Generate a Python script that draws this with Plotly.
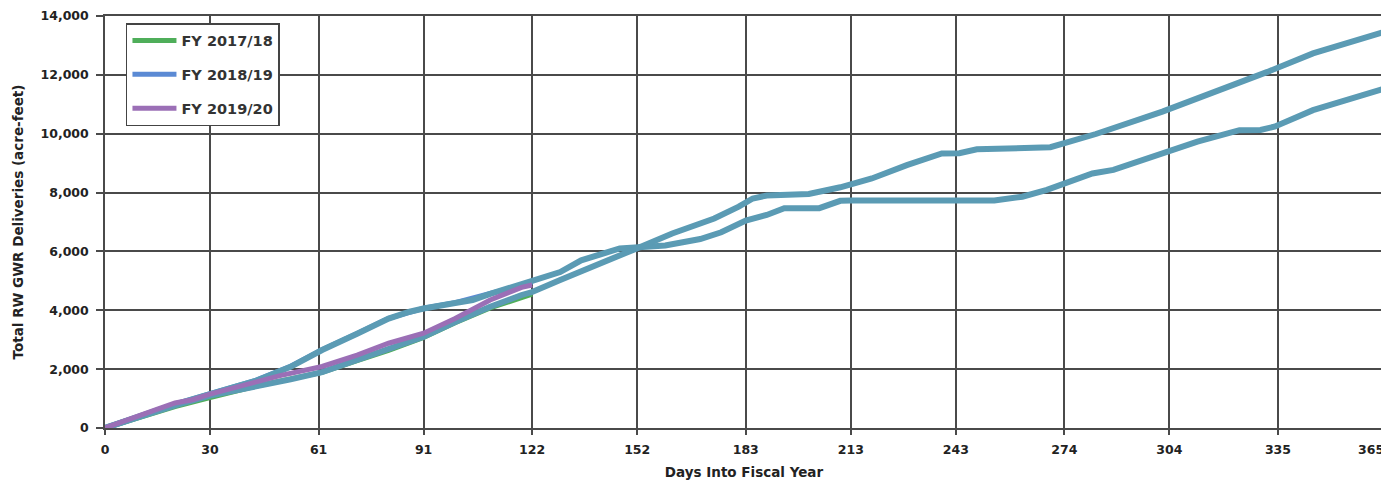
import plotly.graph_objects as go

# ---- data ----
x_ticks = [0, 30, 61, 91, 122, 152, 183, 213, 243, 274, 304, 335, 365]

# full-year line that is upper before day 152 and lower afterwards
days_a = [0, 5, 10, 20, 30, 43, 53, 62, 72, 81, 87, 91, 100, 105, 110, 119, 122, 130, 136, 147,
          153, 160, 170, 176, 183, 189, 194, 204, 210, 213, 254, 262, 269, 275, 282, 288, 302,
          312, 324, 330, 334, 345, 365]
vals_a = [0, 200, 420, 800, 1150, 1600, 2080, 2650, 3200, 3720, 3950, 4060, 4250, 4350, 4560, 4860,
          5000, 5300, 5700, 6100, 6140, 6200, 6420, 6650, 7050, 7240, 7470, 7470, 7720, 7730, 7730,
          7860, 8090, 8330, 8650, 8770, 9330, 9730, 10120, 10130, 10240, 10800, 11520]

# full-year line that is lower before day 152 and upper afterwards
days_b = [0, 5, 10, 20, 30, 43, 53, 62, 72, 81, 91, 100, 110, 119, 122, 130, 136, 141, 151, 162,
          174, 181, 185, 189, 193, 201, 210, 215, 219, 229, 239, 244, 249, 270, 275, 283, 302, 316,
          332, 345, 365]
vals_b = [0, 190, 400, 770, 1100, 1400, 1650, 1900, 2300, 2650, 3100, 3600, 4120, 4520, 4620, 5030,
          5310, 5550, 6060, 6610, 7120, 7520, 7800, 7900, 7920, 7950, 8180, 8320, 8480, 8930, 9330,
          9340, 9470, 9540, 9700, 9990, 10750, 11370, 12100, 12730, 13450]

days_g = [0, 10, 20, 30, 43, 55, 62, 72, 81, 91, 100, 110, 117, 122]
vals_g = [0, 380, 730, 1030, 1420, 1720, 1890, 2290, 2640, 3080, 3580, 4080, 4380, 4550]

days_bl = [0, 10, 20, 30, 43, 53, 62, 72, 81, 91, 100, 110, 119, 122]
vals_bl = [0, 410, 810, 1170, 1620, 2100, 2660, 3210, 3730, 4070, 4260, 4570, 4840, 4950]

days_p = [0, 5, 10, 15, 20, 25, 30, 36, 43, 50, 62, 72, 81, 91, 100, 110, 119, 122]
vals_p = [0, 200, 430, 640, 850, 960, 1150, 1350, 1550, 1780, 2090, 2480, 2880, 3220, 3720, 4350,
          4780, 4860]

names = ["FY 2017/18", "FY 2018/19", "FY 2019/20"]
colors = ["#4fae5a", "#5b8ad4", "#9b6fb6"]
teal = "#5b9bb4"

fig = go.Figure()
fig.add_trace(go.Scatter(x=days_g, y=vals_g, mode="lines", name=names[0], legendgroup="g1",
                         line=dict(color=colors[0], width=5)))
fig.add_trace(go.Scatter(x=days_bl, y=vals_bl, mode="lines", name=names[1], legendgroup="g2",
                         line=dict(color=colors[1], width=5)))
fig.add_trace(go.Scatter(x=days_a, y=vals_a, mode="lines", showlegend=False,
                         line=dict(color=teal, width=6)))
fig.add_trace(go.Scatter(x=days_b, y=vals_b, mode="lines", showlegend=False,
                         line=dict(color=teal, width=6)))
fig.add_trace(go.Scatter(x=days_p, y=vals_p, mode="lines", name=names[2], legendgroup="g3",
                         line=dict(color=colors[2], width=5)))

font_family = "DejaVu Sans"
grid_c = "#4a4a4a"
tick_font = dict(family=font_family, size=12.5, color="#222222", weight="bold")

# last label is written as an annotation so it stays inside the page
tick_text = [str(v) for v in x_ticks[:-1]] + [""]
fig.add_annotation(x=x_ticks[-1], y=0, xref="x", yref="paper", text=str(x_ticks[-1]),
                   showarrow=False, xanchor="right", yanchor="top", xshift=3, yshift=-12,
                   font=tick_font)

fig.update_layout(
    width=1381, height=474,
    margin=dict(l=97, r=6, t=8, b=54),
    paper_bgcolor="white", plot_bgcolor="white",
    font=dict(family=font_family, color="#222222", size=12),
    showlegend=True,
    legend=dict(x=0.0164, y=0.983, xanchor="left", yanchor="top",
                bgcolor="white", bordercolor="#444444", borderwidth=1.5,
                font=dict(family=font_family, size=14.5, color="#333333", weight="bold"),
                traceorder="grouped", tracegroupgap=12, itemwidth=44),
    xaxis=dict(range=[0, 365], tickmode="array", tickvals=x_ticks, ticktext=tick_text,
               automargin=False, ticklabelstandoff=4,
               showgrid=True, gridcolor=grid_c, gridwidth=1.5,
               showline=True, linecolor=grid_c, linewidth=1.5, mirror=True,
               ticks="outside", ticklen=5, tickcolor=grid_c, tickwidth=1.5,
               tickfont=tick_font,
               title=dict(text="Days Into Fiscal Year", standoff=12,
                          font=dict(family=font_family, size=13.5, color="#222222", weight="bold")),
               zeroline=False),
    yaxis=dict(range=[0, 14000], tick0=0, dtick=2000, tickformat=",d",
               automargin=False, ticklabelstandoff=5,
               showgrid=True, gridcolor=grid_c, gridwidth=1.5,
               showline=True, linecolor=grid_c, linewidth=1.5, mirror=True,
               ticks="outside", ticklen=7, tickcolor=grid_c, tickwidth=1.5,
               tickfont=tick_font,
               title=dict(text="Total RW GWR Deliveries (acre-feet)", standoff=14,
                          font=dict(family=font_family, size=13.5, color="#222222", weight="bold")),
               zeroline=False),
)

fig.write_html("out.html")
